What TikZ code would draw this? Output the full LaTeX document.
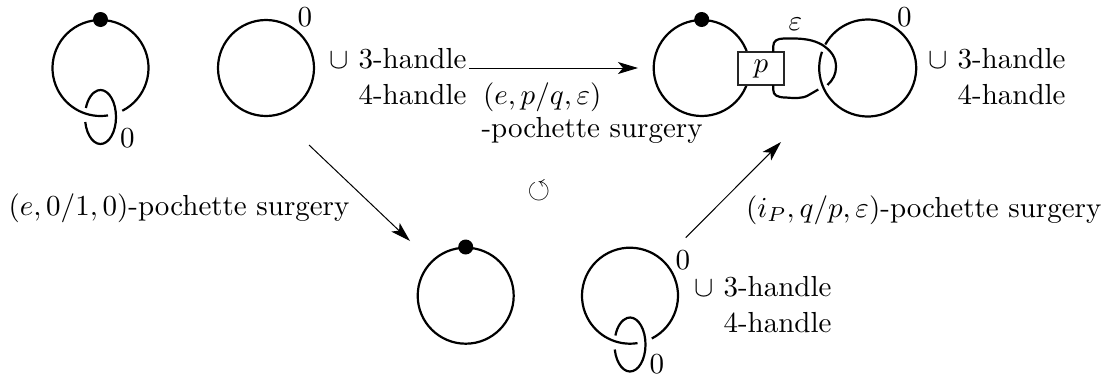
\documentclass[tikz,border=0pt]{standalone}
\usepackage{amsmath,amssymb}
\usetikzlibrary{arrows.meta}
\tikzset{
  x=1pt,y=1pt,
  knot/.style={line width=2.2pt,black},
  arrowline/.style={line width=1pt,-{Stealth[length=20pt,width=12pt,inset=5pt]}},
  lab/.style={inner sep=0pt,anchor=base west,scale=2.9},
  dot/.style={circle,fill=black,inner sep=0pt,minimum size=15pt},
  boxp/.style={draw=black!85,line width=1.1pt,fill=white,minimum width=46pt,minimum height=33pt,inner sep=0pt}
}
\begin{document}
\begin{tikzpicture}
\useasboundingbox (0,0) rectangle (1110,-378);
% top-left knot
\coordinate (c1) at (100.5,-68);
\coordinate (e1) at (100.5,-117);
\draw[knot] (c1) ++(-63:48) arc[start angle=-63,end angle=279,radius=48];
\draw[knot] (e1) ++(190.7:15.5 and 27) arc[start angle=190.7,end angle=520.5,x radius=15.5,y radius=27];
\node[dot] (d1) at (100.5,-19.5) {};
\node[lab] (z1) at (119.5,-147) {0};
% top-middle unknot
\coordinate (c2) at (266,-68);
\draw[knot] (c2) circle[radius=48];
\node[lab] (z2) at (297,-26) {0};
\node[lab] (h1) at (329,-68) {$\cup$ 3-handle};
\node[lab] (h2) at (358,-104) {4-handle};
% top-right diagram
\coordinate (c3) at (701.7,-68);
\coordinate (c4) at (867.7,-68);
\draw[knot] (c3) circle[radius=48];
\node[dot] (d3) at (701.7,-19.5) {};
\draw[knot] (c4) ++(160.5:48.5) arc[start angle=160.5,end angle=511,radius=48.5];
\node[boxp] (bx) at (761,-68.5) {};
\node[inner sep=0pt,scale=2.9] (pl) at (761,-69.5) {$p$};
\draw[knot] (773.3,-52) -- (773.3,-46) .. controls (773.3,-41) and (777,-38.5) .. (784,-38.5)
  .. controls (805,-38) and (813,-40) .. (821.7,-44.5)
  .. controls (832,-51) and (836,-58) .. (836,-67)
  .. controls (836,-74) and (833,-80) .. (827.5,-85);
\draw[knot] (773.3,-85) -- (773.3,-90) .. controls (773.3,-95) and (777,-97.5) .. (786,-97.5)
  .. controls (796,-98.5) and (803,-98) .. (807,-96)
  -- (818.3,-89.5);
\node[lab] (eps) at (788,-30) {$\varepsilon$};
\node[lab] (z3) at (896.5,-26) {0};
\node[lab] (h3) at (928,-68) {$\cup$ 3-handle};
\node[lab] (h4) at (957,-104) {4-handle};
% arrows
\coordinate (a1) at (469,-68);
\coordinate (a2) at (638,-68);
\draw[arrowline] (a1) -- (a2);
\node[lab] (t1) at (482.5,-104) {$(e,p/q,\varepsilon)$};
\node[lab] (t2) at (481,-137) {-pochette surgery};
\coordinate (b1) at (309,-145);
\coordinate (b2) at (410,-241);
\draw[arrowline] (b1) -- (b2);
\node[lab] (t3) at (8,-215) {$(e,0/1,0)$-pochette surgery};
\coordinate (g1) at (685.7,-237.7);
\coordinate (g2) at (781,-142);
\draw[arrowline] (g1) -- (g2);
\node[lab] (t4) at (745.5,-217) {$(i_P,q/p,\varepsilon)$-pochette surgery};
\node[inner sep=0pt,scale=2.9] (cc) at (539,-191) {$\circlearrowleft$};
% bottom unknot
\coordinate (c5) at (465.7,-295.7);
\draw[knot] (c5) circle[radius=48];
\node[dot] (d5) at (465.7,-247) {};
% bottom knot
\coordinate (c6) at (630,-295.7);
\coordinate (e6) at (630,-344.5);
\draw[knot] (c6) ++(-63:48) arc[start angle=-63,end angle=279,radius=48];
\draw[knot] (e6) ++(190.7:15.5 and 27) arc[start angle=190.7,end angle=520.5,x radius=15.5,y radius=27];
\node[lab] (z5) at (675,-269) {0};
\node[lab] (z6) at (649,-373) {0};
\node[lab] (h5) at (694,-296) {$\cup$ 3-handle};
\node[lab] (h6) at (723,-332) {4-handle};
\end{tikzpicture}
\end{document}
